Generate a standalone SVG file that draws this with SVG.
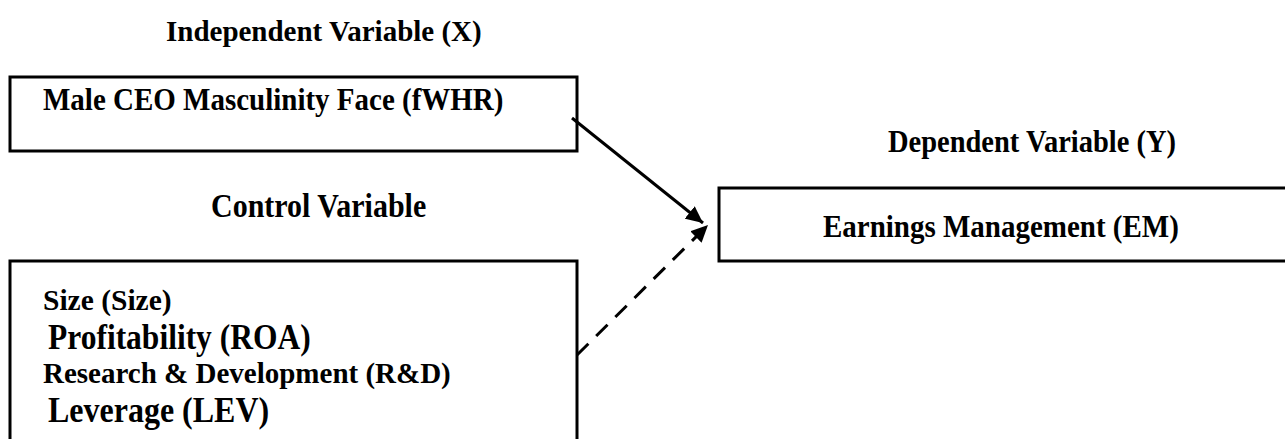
<svg xmlns="http://www.w3.org/2000/svg" width="1285" height="439" viewBox="0 0 1285 439">
<style>
.lbl{font-family:"Liberation Serif","Times New Roman",serif;font-weight:bold;fill:#000}
.box{fill:none;stroke:#000;stroke-width:3}
.conn{fill:none;stroke:#000;stroke-width:3}
</style>
<defs>
<marker id="ah" markerUnits="userSpaceOnUse" markerWidth="18" markerHeight="16" refX="17" refY="8" orient="auto">
<path d="M0,0 L17,8 L0,16 Z" fill="#000"/>
</marker>
</defs>
<rect width="1285" height="439" fill="#fff"/>
<g id="label-independent">
<text class="lbl" font-size="29" transform="translate(166,41) scale(1,1.05)">Independent Variable (X)</text>
</g>
<g id="node-fwhr">
<rect class="box" x="10" y="77" width="567" height="74"/>
<text class="lbl" font-size="29" transform="translate(43,110) scale(1,1.1)">Male CEO Masculinity Face (fWHR)</text>
</g>
<g id="label-dependent">
<text class="lbl" font-size="28.5" transform="translate(888,152) scale(1,1.1)">Dependent Variable (Y)</text>
</g>
<g id="label-control">
<text class="lbl" font-size="30" transform="translate(211,217) scale(1,1.15)">Control Variable</text>
</g>
<g id="node-em">
<rect class="box" x="719" y="188" width="600" height="73"/>
<text class="lbl" font-size="29" transform="translate(823,237) scale(1,1.1)">Earnings Management (EM)</text>
</g>
<g id="node-controls">
<rect class="box" x="10" y="261" width="567" height="200"/>
<text class="lbl" font-size="29.5" x="43" y="310">Size (Size)</text>
<text class="lbl" font-size="31.5" transform="translate(48,349) scale(1,1.15)">Profitability (ROA)</text>
<text class="lbl" font-size="29" x="43" y="383">Research &amp; Development (R&amp;D)</text>
<text class="lbl" font-size="32" transform="translate(48,422) scale(1,1.15)">Leverage (LEV)</text>
</g>
<g id="connectors">
<line class="conn" x1="572" y1="118" x2="703" y2="223" marker-end="url(#ah)"/>
<line class="conn" x1="577" y1="355" x2="708" y2="225" stroke-dasharray="16 11" marker-end="url(#ah)"/>
</g>
</svg>
